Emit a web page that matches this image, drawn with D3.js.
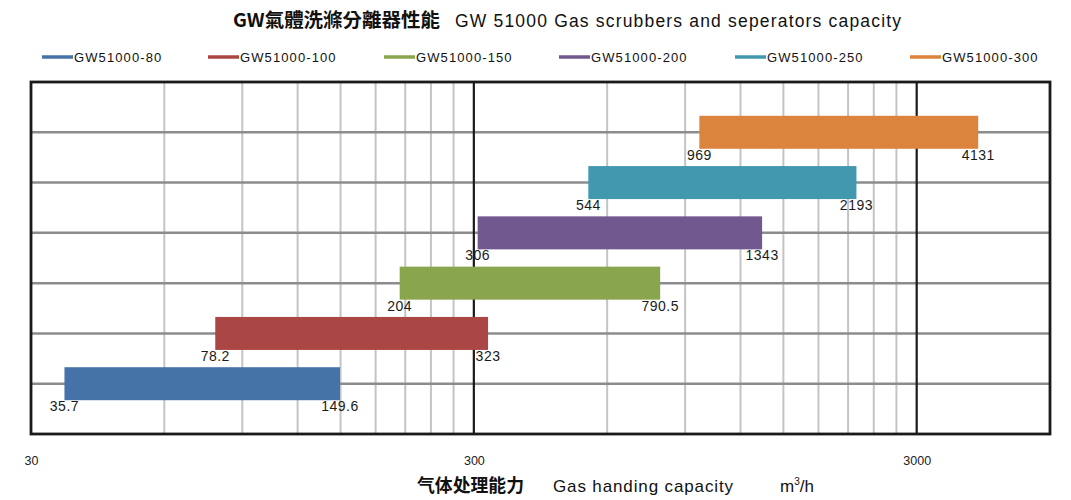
<!DOCTYPE html>
<html>
<head>
	<meta charset="UTF-8">
	<script src="https://cdn.jsdelivr.net/npm/d3@7"></script>
	<title>GW 51000 Gas scrubbers and seperators capacity</title>
	<style>
		body { margin: 0; background: #fff; }
		svg { display: block; font-family: "Liberation Sans", Arial, sans-serif; }
	</style>
</head>
<body>
	<svg></svg>
	<script type="text/javascript">
		const width = 1071;
		const height = 500;
		const margin = ({top: 82, right: 21, bottom: 66, left: 31});

		// data
		const models = ["GW51000-80", "GW51000-100", "GW51000-150", "GW51000-200", "GW51000-250", "GW51000-300"];
		const minFlow = [35.7, 78.2, 204, 306, 544, 969];
		const maxFlow = [149.6, 323, 790.5, 1343, 2193, 4131];
		const minLabels = ["35.7", "78.2", "204", "306", "544", "969"];
		const maxLabels = ["149.6", "323", "790.5", "1343", "2193", "4131"];
		const colors = ["#4572a7", "#aa4643", "#89a54e", "#71588f", "#4198af", "#db843d"];
		const tickValues = [30, 300, 3000];

		const data = models.map((m, i) => ({
			name: m,
			lo: minFlow[i],
			hi: maxFlow[i],
			loLabel: minLabels[i],
			hiLabel: maxLabels[i],
			color: colors[i],
			row: i + 1
		}));

		const x = d3.scaleLog()
			.domain([30, 6000])
			.range([margin.left, width - margin.right]);

		const y = d3.scaleLinear()
			.domain([0, models.length + 1])
			.range([height - margin.bottom, margin.top]);

		const barH = 33;
		const legendX = [42, 208, 384, 559, 735, 910];

		const svg = d3.select("svg")
			.attr("width", width)
			.attr("height", height)
			.attr("viewBox", [0, 0, width, height]);

		// minor vertical grid: 2..9 times the start of each decade
		const minorGrid = [];
		for (const base of [30, 300]) {
			for (let k = 2; k <= 9; ++k) minorGrid.push(base * k);
		}

		svg.append("g")
			.attr("stroke", "#c4c4c6")
			.attr("stroke-width", 2)
			.selectAll("line")
			.data(minorGrid)
			.join("line")
			.attr("x1", d => x(d))
			.attr("x2", d => x(d))
			.attr("y1", y(models.length + 1))
			.attr("y2", y(0));

		// horizontal grid through each bar row
		svg.append("g")
			.attr("stroke", "#8a8c8e")
			.attr("stroke-width", 2.5)
			.selectAll("line")
			.data(d3.range(1, models.length + 1))
			.join("line")
			.attr("x1", x.range()[0])
			.attr("x2", x.range()[1])
			.attr("y1", d => y(d))
			.attr("y2", d => y(d));

		// major decade lines
		svg.append("g")
			.attr("stroke", "#1a1a1a")
			.attr("stroke-width", 2.2)
			.selectAll("line")
			.data(tickValues.slice(1))
			.join("line")
			.attr("x1", d => x(d))
			.attr("x2", d => x(d))
			.attr("y1", y(models.length + 1))
			.attr("y2", y(0));

		// bars
		svg.append("g")
			.selectAll("rect")
			.data(data)
			.join("rect")
			.attr("x", d => x(d.lo))
			.attr("width", d => x(d.hi) - x(d.lo))
			.attr("y", d => y(d.row) - barH / 2)
			.attr("height", barH)
			.attr("fill", d => d.color);

		// value labels under each end of a bar
		const labels = svg.append("g")
			.attr("font-size", 14)
			.attr("letter-spacing", 0.5)
			.attr("fill", "#1a1a1a")
			.attr("text-anchor", "middle");

		labels.selectAll(".lo")
			.data(data)
			.join("text")
			.attr("class", "lo")
			.attr("x", d => x(d.lo))
			.attr("y", d => y(d.row) + barH / 2 + 11)
			.text(d => d.loLabel);

		labels.selectAll(".hi")
			.data(data)
			.join("text")
			.attr("class", "hi")
			.attr("x", d => x(d.hi))
			.attr("y", d => y(d.row) + barH / 2 + 11)
			.text(d => d.hiLabel);

		// plot border
		svg.append("rect")
			.attr("x", x.range()[0])
			.attr("y", y.range()[1])
			.attr("width", x.range()[1] - x.range()[0])
			.attr("height", y.range()[0] - y.range()[1])
			.attr("fill", "none")
			.attr("stroke", "#1a1a1a")
			.attr("stroke-width", 2.8);

		// x axis tick labels
		const xAxis = g => g
			.attr("transform", `translate(0,${height - margin.bottom})`)
			.call(d3.axisBottom(x).tickValues(tickValues).tickFormat(d3.format("d")).tickSize(0).tickPadding(22))
			.call(g => g.select(".domain").remove())
			.call(g => g.selectAll("text")
				.attr("font-family", "'Liberation Sans Narrow', 'Liberation Sans', Arial, sans-serif")
				.attr("font-size", 12.5)
				.attr("fill", "#222"));

		svg.append("g").call(xAxis);

		// title
		const title = svg.append("text")
			.attr("y", 27)
			.attr("fill", "#111");
		title.append("tspan")
			.attr("x", 233)
			.attr("font-family", "'Noto Sans CJK TC', 'Noto Sans CJK SC', sans-serif")
			.attr("font-weight", "bold")
			.attr("font-size", 19)
			.attr("textLength", 207)
			.attr("lengthAdjust", "spacingAndGlyphs")
			.text("GW氣體洗滌分離器性能");
		title.append("tspan")
			.attr("x", 455)
			.attr("font-size", 17.5)
			.attr("textLength", 446)
			.attr("lengthAdjust", "spacing")
			.text("GW 51000 Gas scrubbers and seperators capacity");

		// legend
		const legend = svg.append("g")
			.selectAll("g")
			.data(data)
			.join("g")
			.attr("transform", (d, i) => `translate(${legendX[i]},57)`);
		legend.append("line")
			.attr("x1", 0)
			.attr("x2", 31)
			.attr("stroke", d => d.color)
			.attr("stroke-width", 3.5);
		legend.append("text")
			.attr("x", 32)
			.attr("y", 5)
			.attr("font-size", 13)
			.attr("letter-spacing", 1.1)
			.attr("fill", "#111")
			.text(d => d.name);

		// x axis title
		const xTitle = svg.append("text")
			.attr("y", 492)
			.attr("fill", "#111");
		xTitle.append("tspan")
			.attr("x", 417)
			.attr("font-family", "'Noto Sans CJK SC', sans-serif")
			.attr("font-weight", "bold")
			.attr("font-size", 18)
			.attr("textLength", 107)
			.attr("lengthAdjust", "spacingAndGlyphs")
			.text("气体处理能力");
		xTitle.append("tspan")
			.attr("x", 553)
			.attr("font-size", 17)
			.attr("textLength", 180)
			.attr("lengthAdjust", "spacing")
			.text("Gas handing capacity");
		xTitle.append("tspan")
			.attr("x", 780)
			.attr("font-size", 17)
			.text("m");
		xTitle.append("tspan")
			.attr("font-size", 10)
			.attr("dy", -7)
			.text("3");
		xTitle.append("tspan")
			.attr("font-size", 17)
			.attr("dy", 7)
			.text("/h");
	</script>
</body>
</html>
